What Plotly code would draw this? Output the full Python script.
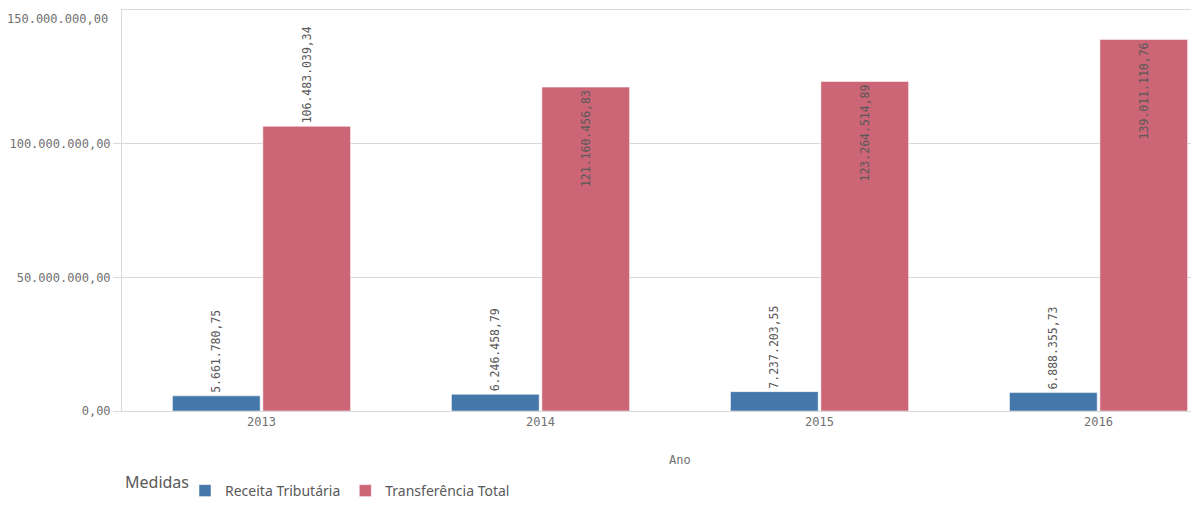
import plotly.graph_objects as go

anos = ["2013", "2014", "2015", "2016"]
receita_tributaria = [5661780.75, 6246458.79, 7237203.55, 6888355.73]
transferencia_total = [106483039.34, 121160456.83, 123264514.89, 139011110.76]
pos_receita = ["outside", "outside", "outside", "outside"]
pos_transf = ["outside", "inside", "inside", "inside"]
y_ticks = [0, 50000000, 100000000]
y_max = 150000000

MONO = "DejaVu Sans Mono"
GRAY = "#707070"

fig = go.Figure()
fig.add_trace(go.Bar(
    x=anos, y=receita_tributaria, name="Receita Tributária",
    marker=dict(color="#4477aa", line=dict(color="rgba(255,255,255,0.5)", width=1)),
    texttemplate="%{y:,.2f}", textposition=pos_receita, textangle=-90,
    insidetextanchor="end", constraintext="none", cliponaxis=False,
    textfont=dict(family=MONO, size=11.5, color="#595959"),
))
fig.add_trace(go.Bar(
    x=anos, y=transferencia_total, name="Transferência Total",
    marker=dict(color="#cc6677", line=dict(color="rgba(255,255,255,0.5)", width=1)),
    texttemplate="%{y:,.2f}", textposition=pos_transf, textangle=-90,
    insidetextanchor="end", constraintext="none", cliponaxis=False,
    textfont=dict(family=MONO, size=11.5, color="#595959"),
))

fig.update_layout(
    width=1191, height=499,
    margin=dict(l=114, r=0, t=2, b=92),
    plot_bgcolor="white", paper_bgcolor="white",
    separators=",.",
    barmode="group", bargap=0.352, bargroupgap=0.03,
    font=dict(family="Noto Sans", color="#595959"),
    showlegend=True,
    legend=dict(
        orientation="h", x=(185 - 122) / 1077, xanchor="left", y=-0.16, yanchor="top",
        font=dict(size=14, color="#595959"),
        itemwidth=30, traceorder="normal",
    ),
    xaxis=dict(
        type="category", range=[-0.5, 3.36],
        showgrid=False, showline=True, mirror=True, linecolor="#d9d9d9", linewidth=1,
        ticks="", tickfont=dict(family=MONO, size=12, color=GRAY),
    ),
    yaxis=dict(
        range=[0, y_max], tickvals=y_ticks, tickformat=",.2f",
        showgrid=True, gridcolor="#d9d9d9", gridwidth=1,
        showline=True, linecolor="#d9d9d9", linewidth=1,
        ticks="outside", ticklen=8, tickcolor="#d9d9d9",
        tickfont=dict(family=MONO, size=12, color=GRAY),
        zeroline=False,
    ),
)
fig.add_annotation(
    text=f"{y_max:,.2f}".replace(",", "X").replace(".", ",").replace("X", "."),
    xref="paper", yref="paper", x=0, xshift=-12, y=1, yshift=-9,
    showarrow=False, xanchor="right", yanchor="middle",
    font=dict(family=MONO, size=12, color=GRAY),
)
fig.add_annotation(
    text="Ano", xref="paper", yref="paper", x=(680 - 122) / 1077, y=-(464 - 415) / 405,
    showarrow=False, xanchor="center", yanchor="middle",
    font=dict(family=MONO, size=12, color=GRAY),
)
fig.add_annotation(
    text="Medidas", xref="paper", yref="paper", x=(123 - 122) / 1077, y=-(487 - 415) / 405,
    showarrow=False, xanchor="left", yanchor="middle",
    font=dict(family="Noto Sans", size=16, color="#595959"),
)

fig.write_html("out.html")
